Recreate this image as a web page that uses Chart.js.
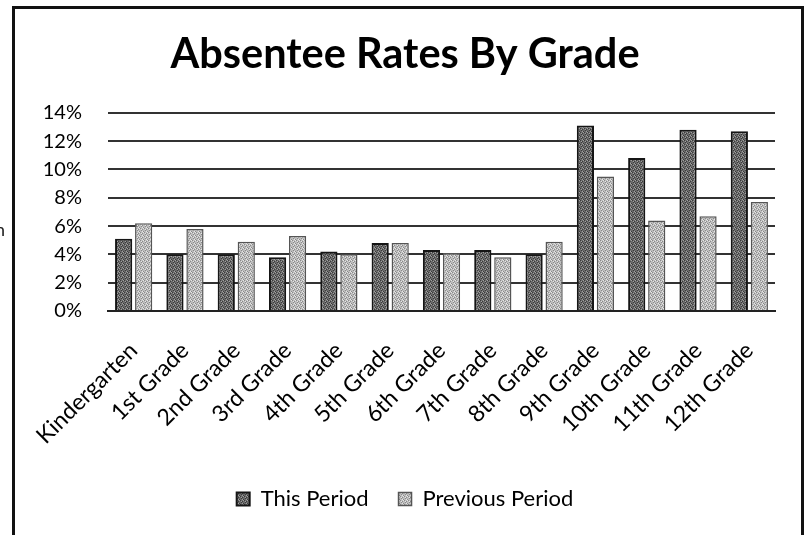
<!DOCTYPE html>
<html>
<head>
<meta charset="utf-8">
<script src="https://cdn.jsdelivr.net/npm/chart.js@4.4.1/dist/chart.umd.min.js"></script>
<style>
  html, body { margin: 0; padding: 0; background: #fff; }
  #wrap { position: relative; width: 809px; height: 535px; overflow: hidden; }
  #frame { position: absolute; left: 12px; top: 6px; width: 786px; height: 540px;
           border: 3px solid #111; border-bottom: none; pointer-events: none; }
  #stray { position: absolute; left: -5px; top: 218px; font: 18px Lato, sans-serif; color: #222; }
</style>
</head>
<body>
<div id="wrap">
  <canvas id="c" width="809" height="535"></canvas>
  <div id="frame"></div>
  <span id="stray">n</span>
</div>
<script>
const categories = ["Kindergarten", "1st Grade", "2nd Grade", "3rd Grade", "4th Grade", "5th Grade",
  "6th Grade", "7th Grade", "8th Grade", "9th Grade", "10th Grade", "11th Grade", "12th Grade"];
const thisPeriod = [5.1, 4.0, 4.0, 3.8, 4.2, 4.8, 4.3, 4.3, 4.0, 13.1, 10.8, 12.8, 12.7];
const previousPeriod = [6.2, 5.8, 4.9, 5.3, 4.0, 4.8, 4.1, 3.8, 4.9, 9.5, 6.4, 6.7, 7.7];
const yTicks = [0, 2, 4, 6, 8, 10, 12, 14];

function makePattern(base, speck, speck2) {
  const p = document.createElement('canvas');
  p.width = 4; p.height = 4;
  const g = p.getContext('2d');
  g.fillStyle = base; g.fillRect(0, 0, 4, 4);
  g.fillStyle = speck;
  [[0,0],[2,1],[1,2],[3,3]].forEach(([x,y]) => g.fillRect(x, y, 1, 1));
  g.fillStyle = speck2;
  [[3,0],[1,1],[2,3]].forEach(([x,y]) => g.fillRect(x, y, 1, 1));
  return g.createPattern(p, 'repeat');
}
const ctx = document.getElementById('c').getContext('2d');
const darkFill = makePattern('#6a6a6a', '#3a3a3a', '#a0a0a0');
const lightFill = makePattern('#bdbdbd', '#8a8a8a', '#e6e6e6');

new Chart(ctx, {
  type: 'bar',
  data: {
    labels: categories,
    datasets: [
      { label: 'This Period', data: thisPeriod, backgroundColor: darkFill, borderColor: '#151515', borderWidth: 2 },
      { label: 'Previous Period', data: previousPeriod, backgroundColor: lightFill, borderColor: '#555', borderWidth: 1.5 }
    ]
  },
  options: {
    responsive: false,
    animation: false,
    devicePixelRatio: 1,
    categoryPercentage: 0.78,
    barPercentage: 0.86,
    layout: { padding: { left: 35, right: 34, top: 0, bottom: 17 } },
    plugins: {
      title: {
        display: true,
        text: 'Absentee Rates By Grade',
        color: '#000',
        font: { family: 'Lato', size: 41.5, weight: 'bold' },
        padding: { top: 30, bottom: 33 }
      },
      legend: {
        position: 'bottom',
        maxHeight: 60,
        labels: {
          color: '#000',
          font: { family: 'Lato', size: 22 },
          boxWidth: 13, boxHeight: 13,
          padding: 30
        }
      },
      tooltip: { enabled: false }
    },
    scales: {
      x: {
        grid: { display: false, drawTicks: false },
        border: { display: true, color: '#222', width: 2 },
        ticks: { color: '#000', font: { family: 'Lato', size: 23 }, minRotation: 45, maxRotation: 45, padding: 26, autoSkip: false },
        afterFit: s => { s.height = 147; }
      },
      y: {
        min: 0, max: 14,
        afterBuildTicks: s => { s.ticks = yTicks.map(v => ({ value: v })); },
        grid: { color: '#333', lineWidth: 2, drawTicks: false },
        border: { display: false },
        ticks: { color: '#000', font: { family: 'Lato', size: 20 }, padding: 26, callback: v => v + '%' },
        afterFit: s => { s.width = 73; }
      }
    }
  }
});
</script>
</body>
</html>
